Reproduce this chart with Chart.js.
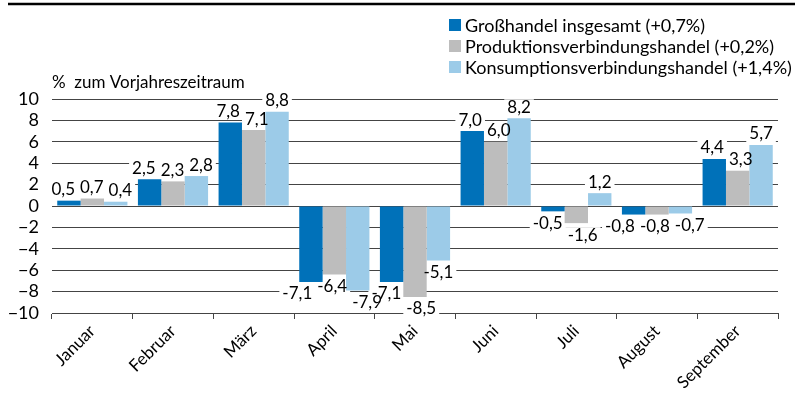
<!DOCTYPE html>
<html>
<head>
<meta charset="utf-8">
<script src="https://cdn.jsdelivr.net/npm/chart.js@4"></script>
<style>
body { margin: 0; background: #fff; }
#wrap { width: 806px; height: 400px; }
</style>
</head>
<body>
<div id="wrap"><canvas id="myChart" width="806" height="400"></canvas></div>
<script>
var monate = ["Januar","Februar","März","April","Mai","Juni","Juli","August","September"]
var grosshandel = [0.5, 2.5, 7.8, -7.1, -7.1, 7.0, -0.5, -0.8, 4.4]
var produktion = [0.7, 2.3, 7.1, -6.4, -8.5, 6.0, -1.6, -0.8, 3.3]
var konsumption = [0.4, 2.8, 8.8, -7.9, -5.1, 8.2, 1.2, -0.7, 5.7]
var serienNamen = ["Großhandel insgesamt (+0,7%)","Produktionsverbindungshandel (+0,2%)","Konsumptionsverbindungshandel (+1,4%)"]
var farben = ["#0071b9","#bdbdbd","#9ccbe8"]
var yTicks = [-10,-8,-6,-4,-2,0,2,4,6,8,10]

var schrift = "Lato, 'Noto Sans', sans-serif"
var labelFont = "17px " + schrift

function zahl(v){
    return v.toFixed(1).replace(".", ",")
}

// Rahmenlinie, Achsentitel und Legende
var deko = {
    id: "deko",
    afterDraw(chart){
        var ctx = chart.ctx
        ctx.save()
        ctx.strokeStyle = "#000"
        ctx.lineWidth = 2.5
        ctx.beginPath()
        ctx.moveTo(8, 4)
        ctx.lineTo(795, 4)
        ctx.stroke()

        ctx.fillStyle = "#000"
        ctx.font = "17px " + schrift
        ctx.textBaseline = "alphabetic"
        ctx.textAlign = "left"
        ctx.fillText("%  zum Vorjahreszeitraum", 52, 88)

        ctx.font = "18px " + schrift
        ctx.textBaseline = "middle"
        for(var i = 0; i < chart.data.datasets.length; i++){
            var y = 25 + i * 21
            ctx.fillStyle = chart.data.datasets[i].backgroundColor
            ctx.fillRect(449, y - 6, 12, 12)
            ctx.fillStyle = "#000"
            ctx.fillText(chart.data.datasets[i].label, 465, y + 1)
        }
        ctx.restore()
    }
}

// Positionen der Datenbeschriftungen, überlappende auseinanderschieben
function labelBoxes(chart){
    var ctx = chart.ctx
    ctx.save()
    ctx.font = labelFont
    var alle = []
    var n = chart.data.labels.length
    for(var i = 0; i < n; i++){
        var boxes = []
        chart.data.datasets.forEach(function(ds, di){
            var bar = chart.getDatasetMeta(di).data[i]
            var v = ds.data[i]
            var txt = zahl(v)
            var w = ctx.measureText(txt).width
            var y = v >= 0 ? bar.y - 11 : bar.y + 12
            boxes.push({ txt: txt, x: bar.x, y: y, w: w })
        })
        for(var k = 1; k < boxes.length; k++){
            var a = boxes[k-1], b = boxes[k]
            if(Math.abs(a.y - b.y) < 17){
                var gap = (a.x + a.w/2 + 4) - (b.x - b.w/2)
                if(gap > 0){
                    b.x += gap / 2 + 1
                    a.x -= gap / 2
                    if(k > 1){ boxes[k-2].x -= gap / 2 }
                }
            }
        }
        alle = alle.concat(boxes)
    }
    ctx.restore()
    return alle
}

var werte = {
    id: "werte",
    beforeDatasetsDraw(chart){
        var ctx = chart.ctx
        chart.$labels = labelBoxes(chart)
        ctx.save()
        ctx.fillStyle = "#fff"
        chart.$labels.forEach(function(bx){
            ctx.fillRect(bx.x - bx.w / 2 - 3, bx.y - 8, bx.w + 6, 16)
        })
        ctx.restore()
    },
    afterDatasetsDraw(chart){
        var ctx = chart.ctx
        ctx.save()
        ctx.font = labelFont
        ctx.textAlign = "center"
        ctx.textBaseline = "middle"
        ctx.fillStyle = "#000"
        chart.$labels.forEach(function(bx){
            ctx.fillText(bx.txt, bx.x, bx.y)
        })
        ctx.restore()
    }
}

new Chart("myChart", {
    type: "bar",
    data: {
        labels: monate,
        datasets: [
            { label: serienNamen[0], data: grosshandel, backgroundColor: farben[0] },
            { label: serienNamen[1], data: produktion, backgroundColor: farben[1] },
            { label: serienNamen[2], data: konsumption, backgroundColor: farben[2] }
        ]
    },
    options: {
        responsive: false,
        animation: false,
        layout: { padding: { top: 99, right: 28, left: 0, bottom: 0 } },
        datasets: { bar: { categoryPercentage: 0.87, barPercentage: 1.0 } },
        plugins: {
            legend: { display: false },
            tooltip: { enabled: false }
        },
        scales: {
            x: {
                afterFit: function(scale){ scale.height = 87 },
                border: { display: true, color: "#444", width: 1 },
                grid: { drawOnChartArea: false, color: "#444", tickLength: 6, offset: true },
                ticks: {
                    color: "#000",
                    font: { size: 17, family: schrift },
                    minRotation: 45,
                    maxRotation: 45,
                    autoSkip: false,
                    padding: 2
                }
            },
            y: {
                min: -10,
                max: 10,
                afterFit: function(scale){ scale.width = 52 },
                afterBuildTicks: function(scale){
                    scale.ticks = yTicks.map(function(t){ return { value: t } })
                },
                border: { display: false },
                grid: { color: "#444", lineWidth: 1, drawTicks: false },
                ticks: {
                    color: "#000",
                    font: { size: 18, family: schrift },
                    padding: 13,
                    autoSkip: false,
                    callback: function(v){ return String(v).replace("-", "\u2212") }
                }
            }
        }
    },
    plugins: [deko, werte]
})
</script>
</body>
</html>
